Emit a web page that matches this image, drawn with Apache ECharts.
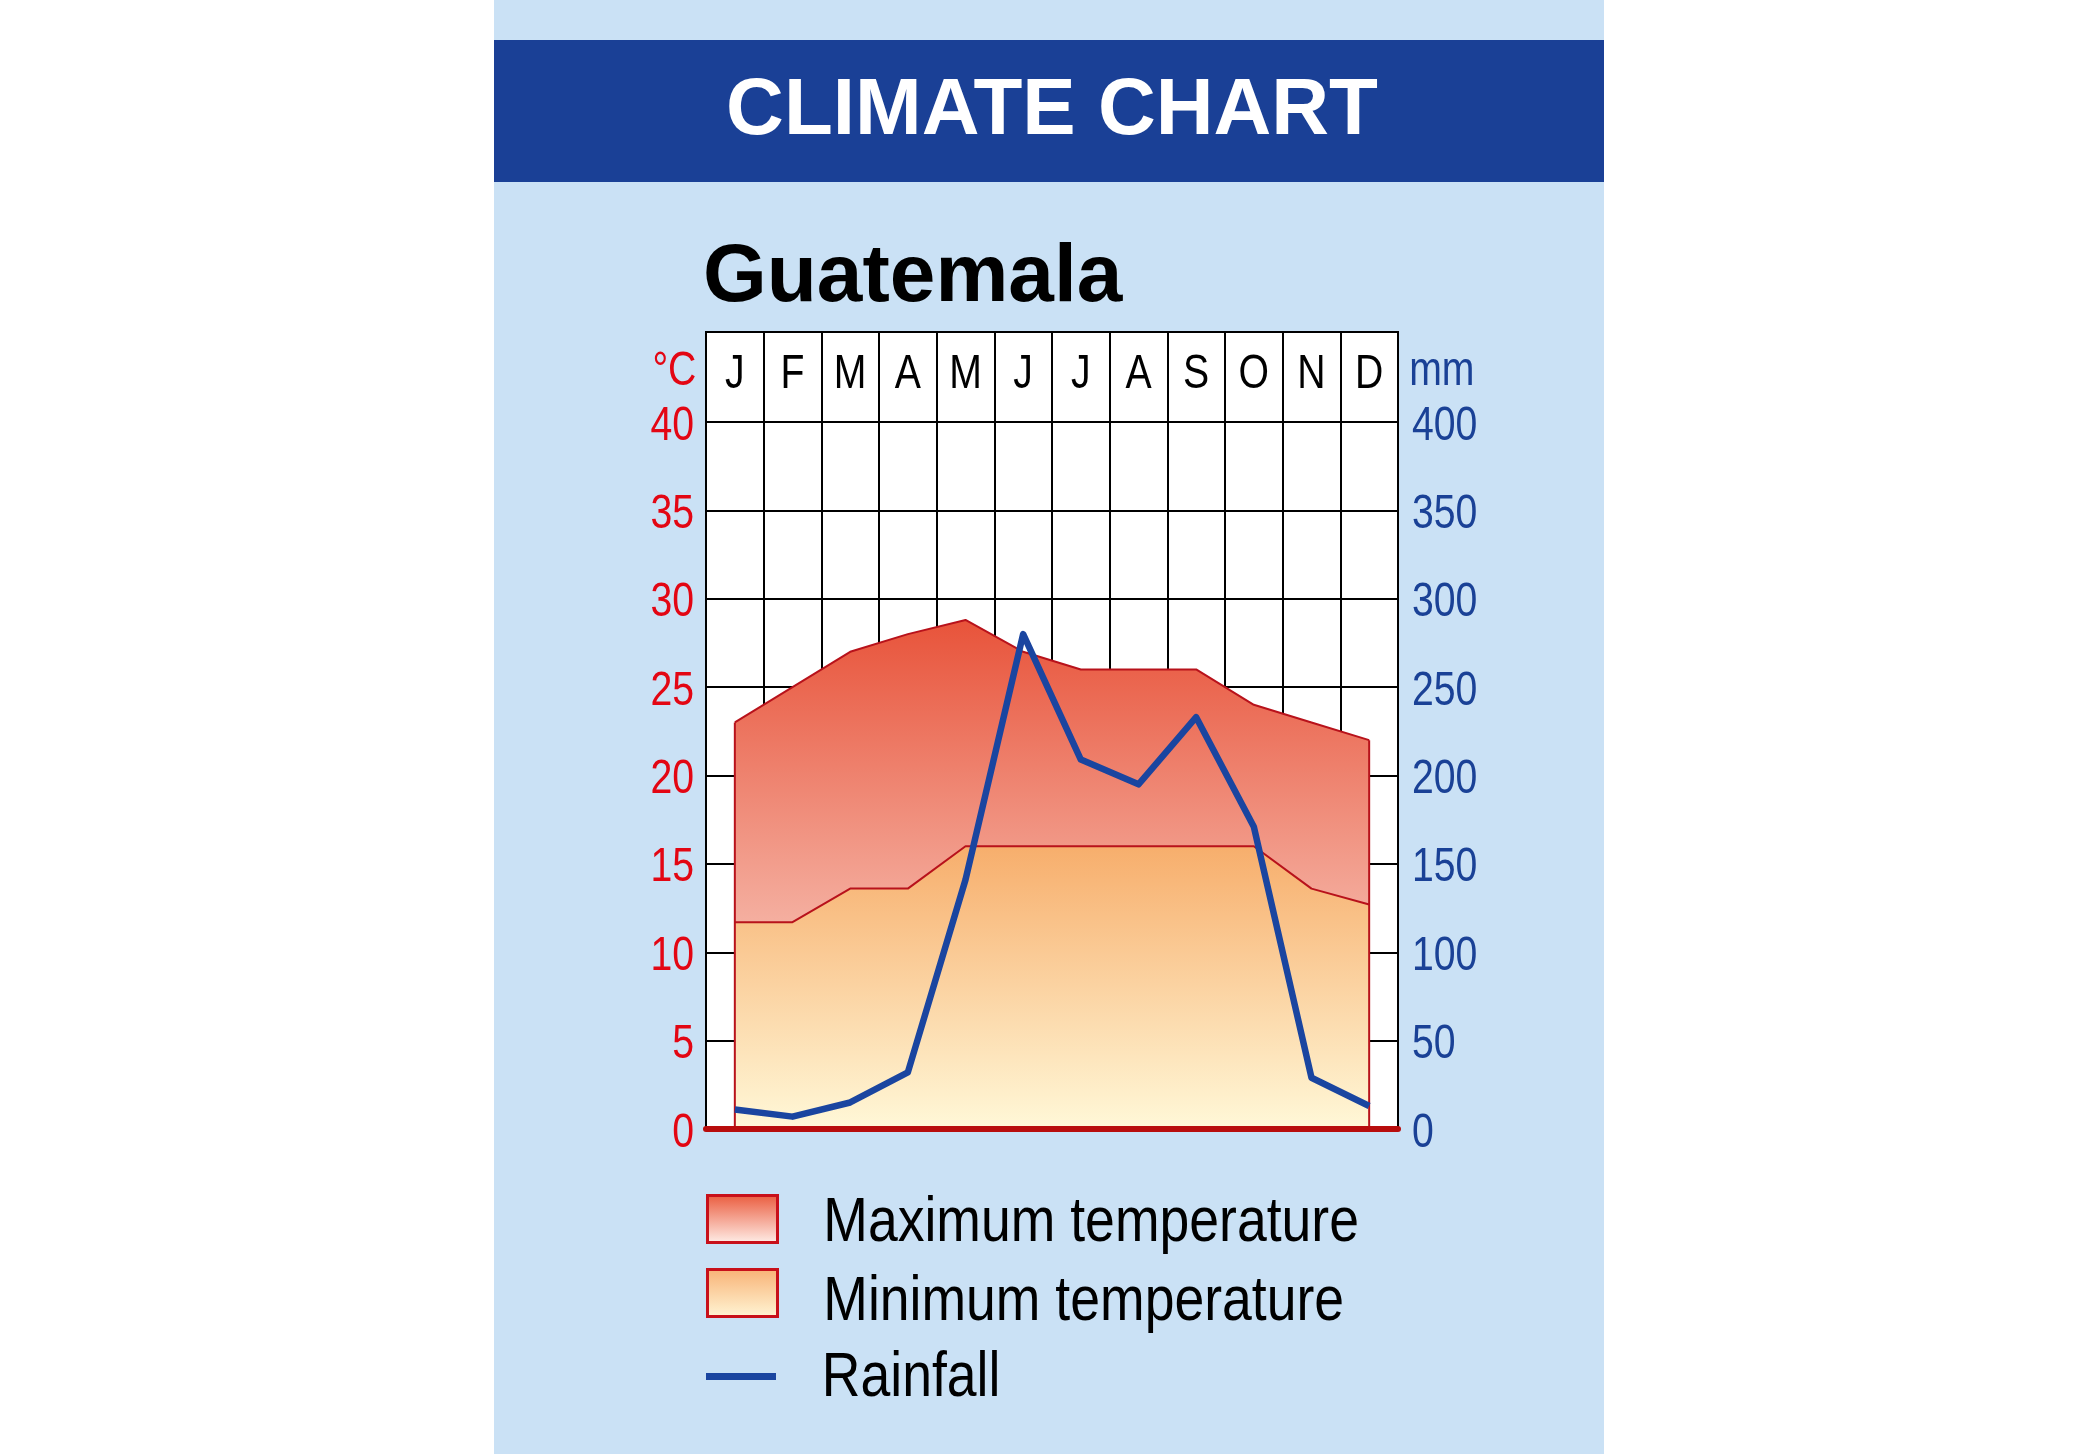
<!DOCTYPE html>
<html><head><meta charset="utf-8">
<script src="https://cdn.jsdelivr.net/npm/echarts@6/dist/echarts.min.js"></script>
<style>html,body{margin:0;padding:0;background:#fff;}#c{width:2100px;height:1454px;}</style>
</head><body><div id="c"></div>
<script>
// ---- data ----
const months = ['J','F','M','A','M','J','J','A','S','O','N','D'];
const maxTemp = [23, 25, 27, 28, 28.8, 27, 26, 26, 26, 24, 23, 22];
const minTemp = [11.7, 11.7, 13.6, 13.6, 16, 16, 16, 16, 16, 16, 13.6, 12.7];
const rainfall = [11, 7, 15, 32, 141, 280, 209, 195, 233, 171, 29, 13];
const tempAxis = {min: 0, max: 40, interval: 5};
const rainAxis = {min: 0, max: 400, interval: 50};

const NARROW = "'Liberation Sans',Arial,sans-serif";
const RED = '#e30613', BLUE = '#1a4196', DARKRED = '#b8121b', LINEBLUE = '#1a45a0';
const grad = (a, b) => new echarts.graphic.LinearGradient(0, 0, 0, 1, [{offset: 0, color: a}, {offset: 1, color: b}]);

const chart = echarts.init(document.getElementById('c'), null, {renderer: 'canvas'});
const option = {
  animation: false,
  graphic: [
    {type: 'rect', z: -100, shape: {x: 494, y: 0, width: 1110, height: 1454}, style: {fill: '#cae1f5'}},
    {type: 'rect', z: -99, shape: {x: 494, y: 40, width: 1110, height: 142}, style: {fill: '#1a4096'}}
  ],
  title: [
    {text: 'CLIMATE CHART', left: 1052, top: 72, textAlign: 'center', padding: 0,
     textStyle: {color: '#fff', fontSize: 80, fontWeight: 'bold', fontFamily: "'Liberation Sans',Arial,sans-serif"}},
    {text: 'Guatemala', left: 703, top: 237, padding: 0,
     textStyle: {color: '#000', fontSize: 82, fontWeight: 'bold', fontFamily: "'Liberation Sans',Arial,sans-serif"}}
  ],
  grid: [
    {left: 706, right: 702, top: 422, height: 707, show: true, backgroundColor: '#fff', borderColor: '#000', borderWidth: 2},
    {left: 706, right: 702, top: 332, height: 90, show: true, backgroundColor: '#fff', borderColor: '#000', borderWidth: 2}
  ],
  xAxis: [
    {gridIndex: 0, type: 'category', data: months, position: 'top', boundaryGap: true,
     axisLine: {show: false}, axisTick: {show: false}, axisLabel: {show: false},
     splitLine: {show: true, interval: 0, lineStyle: {color: '#000', width: 2}}},
    {gridIndex: 0, type: 'category', data: months, position: 'bottom', boundaryGap: true, z: 10,
     axisLine: {show: true, lineStyle: {color: '#b80d0d', width: 6}}, axisTick: {show: false},
     axisLabel: {show: false}, splitLine: {show: false}},
    {gridIndex: 1, type: 'category', data: months, position: 'bottom', boundaryGap: true,
     axisLine: {show: false}, axisTick: {show: false},
     splitLine: {show: true, interval: 0, lineStyle: {color: '#000', width: 2}},
     axisLabel: {show: true, interval: 0, inside: true, margin: 48, verticalAlign: 'middle',
                 fontSize: 49, color: '#000', fontFamily: NARROW}}
  ],
  yAxis: [
    {gridIndex: 0, type: 'value', min: tempAxis.min, max: tempAxis.max, interval: tempAxis.interval, position: 'left',
     name: '°C', nameLocation: 'end', nameGap: 51,
     nameTextStyle: {color: RED, fontSize: 49, fontFamily: NARROW, align: 'right', verticalAlign: 'middle', padding: [0, 12, 0, 0]},
     axisLine: {show: false}, axisTick: {show: false},
     axisLabel: {color: RED, fontSize: 49, fontFamily: NARROW, margin: 12},
     splitLine: {show: true, lineStyle: {color: '#000', width: 2}}},
    {gridIndex: 0, type: 'value', min: rainAxis.min, max: rainAxis.max, interval: rainAxis.interval, position: 'right',
     name: 'mm', nameLocation: 'end', nameGap: 51,
     nameTextStyle: {color: BLUE, fontSize: 49, fontFamily: NARROW, align: 'left', verticalAlign: 'middle', padding: [0, 0, 0, 14]},
     axisLine: {show: false}, axisTick: {show: false},
     axisLabel: {color: BLUE, fontSize: 49, fontFamily: NARROW, margin: 14},
     splitLine: {show: false}},
    {gridIndex: 1, type: 'value', show: false, splitLine: {show: false}}
  ],
  legend: [
    {left: 706, top: 1187.5, padding: 0, selectedMode: false, itemWidth: 70, itemHeight: 47,
     data: [{name: 'Maximum temperature', icon: 'rect',
             itemStyle: {color: grad('#ea5a3c', '#fff0ea'), borderColor: '#c8101a', borderWidth: 3}}],
     textStyle: {fontSize: 63, fontFamily: NARROW, color: '#000', padding: [0, 0, 0, 48]}},
    {left: 706, top: 1261.5, padding: 0, selectedMode: false, itemWidth: 70, itemHeight: 47,
     data: [{name: 'Minimum temperature', icon: 'rect',
             itemStyle: {color: grad('#f8b174', '#fff6d6'), borderColor: '#c8101a', borderWidth: 3}}],
     textStyle: {fontSize: 63, fontFamily: NARROW, color: '#000', padding: [0, 0, 0, 48]}},
    {left: 706, top: 1345, padding: 0, selectedMode: false, itemWidth: 70, itemHeight: 7,
     data: [{name: 'Rainfall', icon: 'rect', itemStyle: {color: LINEBLUE, borderWidth: 0}}],
     textStyle: {fontSize: 63, fontFamily: NARROW, color: '#000', padding: [0, 0, 0, 48]}}
  ],
  series: [
    {name: 'Maximum temperature', type: 'line', xAxisIndex: 0, yAxisIndex: 0, data: maxTemp, symbol: 'none', z: 2,
     lineStyle: {color: DARKRED, width: 2}, itemStyle: {color: DARKRED},
     areaStyle: {color: grad('#e8533a', '#fdeee6'), opacity: 1}},
    {name: 'Minimum temperature', type: 'line', xAxisIndex: 0, yAxisIndex: 0, data: minTemp, symbol: 'none', z: 3,
     lineStyle: {color: DARKRED, width: 2}, itemStyle: {color: DARKRED},
     areaStyle: {color: grad('#f7ae6c', '#fff8d8'), opacity: 1}},
    {type: 'custom', xAxisIndex: 0, yAxisIndex: 0, z: 4, silent: true,
     data: [[0, maxTemp[0]], [months.length - 1, maxTemp[months.length - 1]]],
     renderItem: function (params, api) {
       const top = api.coord([api.value(0), api.value(1)]);
       const bot = api.coord([api.value(0), 0]);
       return {type: 'line', shape: {x1: top[0], y1: top[1], x2: bot[0], y2: bot[1]},
               style: {stroke: DARKRED, lineWidth: 2}};
     }},
    {name: 'Rainfall', type: 'line', xAxisIndex: 0, yAxisIndex: 1, data: rainfall, symbol: 'none', z: 5,
     lineStyle: {color: LINEBLUE, width: 6.5, join: 'round'}, itemStyle: {color: LINEBLUE}}
  ]
};
chart.setOption(option);

// Condense the non-bold label text horizontally (the original uses a condensed face),
// and nudge a few labels vertically to sit like the original's baseline.
const legendNudge = {'Maximum temperature': 5, 'Minimum temperature': 10, 'Rainfall': 2.5};
function condense() {
  try {
    const zr = chart.getZr();
    zr.storage.getRoots().forEach(function (root) {
      const visit = function (el) {
        if (el.type === 'text' && el.style && el.style.fontWeight !== 'bold') {
          const fs = el.style.fontSize;
          const txt = String(el.style.text);
          let s = 0.8;
          if (fs === 63) {
            s = 0.85;
            if (legendNudge[txt] != null) el.y = (el.y || 0) + legendNudge[txt];
          } else if ((el.style.fill === RED || el.style.fill === BLUE) && txt !== '°C' && txt !== 'mm') {
            el.y = (el.y || 0) + 4;
          }
          el.originX = el.style.x || 0;
          el.originY = el.style.y || 0;
          el.scaleX = s;
          el.markRedraw && el.markRedraw();
        }
      };
      if (root.traverse) { visit(root); root.traverse(visit); } else { visit(root); }
    });
    zr.refreshImmediately();
  } catch (e) { console.error(e); }
}
condense();
</script>
</body></html>
